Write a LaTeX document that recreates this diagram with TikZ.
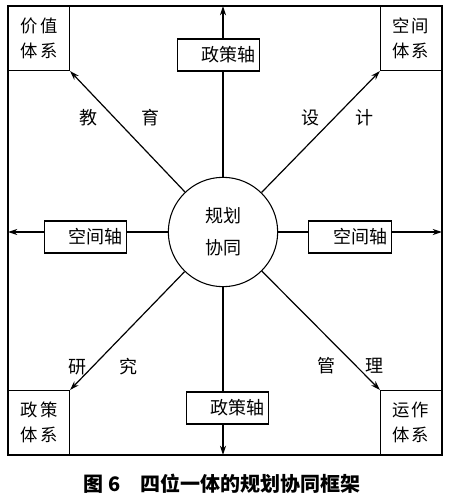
\documentclass[tikz,border=0pt]{standalone}
\usepackage{fontspec}
\setmainfont{Noto Sans CJK SC}
\usetikzlibrary{arrows.meta}

\begin{document}
\begin{tikzpicture}[x=0.75pt,y=0.75pt,yscale=-1,
  axisbox/.style={draw, line width=0.8pt, minimum height=24pt, text width=56pt, inner xsep=3pt, align=right, font=\fontsize{13.5}{15}\selectfont},
  cornerbox/.style={draw, line width=0.8pt, minimum width=45.75pt, minimum height=48pt, inner sep=0pt, align=center, font=\fontsize{13}{19}\selectfont},
  hub/.style={draw, circle, line width=0.8pt, minimum size=82pt, inner sep=0pt, align=center, font=\fontsize{13.5}{24}\selectfont},
  lbl/.style={inner sep=0.75pt, font=\fontsize{13.5}{15}\selectfont},
  arr/.style={line width=0.9pt, -{Stealth[length=7pt,width=4.5pt]}}]
\useasboundingbox (0,0) rectangle (450,503);

%Frame
\coordinate (fnw) at (8,6);
\coordinate (fse) at (442,455);
\draw [line width=0.8pt] (fnw) rectangle (fse);

%Shape: Circle
\node [hub] (gh) at (223,232) {规划\\协同};

%Corner boxes
\node [cornerbox, anchor=north west] (jz) at (fnw) {价\hspace{1.5pt}值\\体\hspace{1.5pt}系};
\node [cornerbox, anchor=north east] (kj) at (fse |- fnw) {空\hspace{1.5pt}间\\体\hspace{1.5pt}系};
\node [cornerbox, anchor=south west] (zc) at (fnw |- fse) {政\hspace{1.5pt}策\\体\hspace{1.5pt}系};
\node [cornerbox, anchor=south east] (yz) at (fse) {运\hspace{1.5pt}作\\体\hspace{1.5pt}系};

%Axis boxes
\node [axisbox] (zczt) at (218.5,55) {政策轴};
\node [axisbox] (zczb) at (227.5,408) {政策轴};
\node [axisbox] (kjzl) at (85.5,237) {空间轴};
\node [axisbox] (kjzr) at (350,237) {空间轴};

%Straight Lines
\draw [line width=0.9pt] (gh.north) -- (gh.north |- zczt.south);
\draw [arr] (gh |- zczt.north) -- (gh |- fnw);
\draw [line width=0.9pt] (gh.south) -- (gh.south |- zczb.north);
\draw [arr] (gh |- zczb.south) -- (gh |- fse);
\draw [line width=0.9pt] (gh.west) -- (gh.west -| kjzl.east);
\draw [arr] (gh -| kjzl.west) -- (gh -| fnw);
\draw [line width=0.9pt] (gh.east) -- (gh.east -| kjzr.west);
\draw [arr] (gh -| kjzr.east) -- (gh -| fse);

%Diagonals
\draw [arr] (gh) -- (jz.south east);
\draw [arr] (gh) -- (kj.south west);
\draw [arr] (gh) -- (zc.north east);
\draw [arr] (gh) -- (yz.north west);

% Text Node
\node [lbl] (jiao) at (88,118) {教};
\node [lbl] (yu) at (150,118) {育};
\node [lbl] (she) at (310,118) {设};
\node [lbl] (ji) at (364,118) {计};
\node [lbl] (yan) at (77,367) {研};
\node [lbl] (jiu) at (128,367) {究};
\node [lbl] (guan) at (326,366) {管};
\node [lbl] (li) at (374,366) {理};

% Caption
\node [font=\bfseries\fontsize{15}{17}\selectfont] (cap) at (222,484) {图 6\quad 四位一体的规划协同框架};

\end{tikzpicture}
\end{document}
